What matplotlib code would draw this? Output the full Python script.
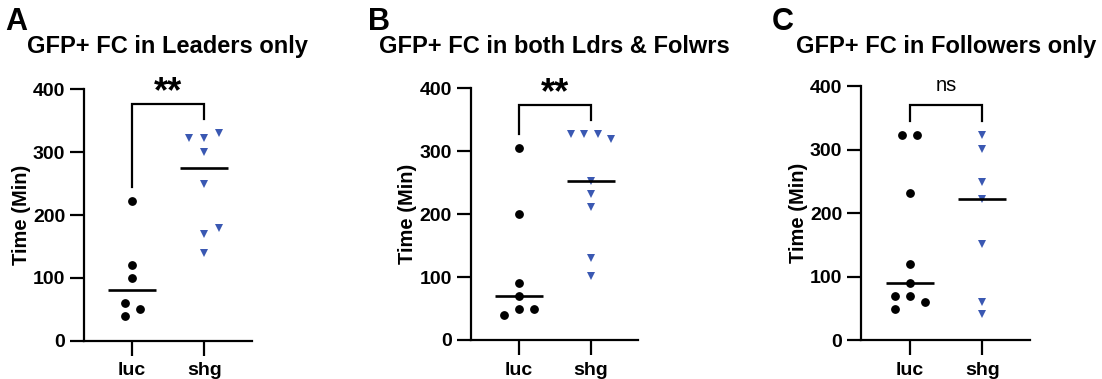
# GraphPad風のドットプロット 3パネル

import numpy as np
import matplotlib
matplotlib.use('Agg')
import matplotlib.pyplot as plt

plt.rcParams['font.family'] = ['Liberation Sans', 'DejaVu Sans']

groups = ['luc', 'shg']
titles = ['GFP+ FC in Leaders only',
          'GFP+ FC in both Ldrs & Folwrs',
          'GFP+ FC in Followers only']
panel_letters = ['A', 'B', 'C']
sig_labels = ['**', '**', 'ns']
yticks = [0, 100, 200, 300, 400]

# 値 (分)
luc_A = [222, 120, 100, 60, 50, 40]
shg_A = [323, 323, 330, 300, 250, 180, 170, 140]
luc_B = [305, 200, 90, 70, 50, 50, 40]
shg_B = [327, 327, 327, 319, 253, 232, 212, 131, 101]
luc_C = [323, 323, 232, 120, 90, 70, 70, 60, 50]
shg_C = [323, 301, 249, 222, 152, 61, 41]

# 重なり回避の横ずらし (半ステップ単位)
spread_luc_A = [0, 0, 0, -1, 1, -1]
spread_shg_A = [-2, 0, 2, 0, 0, 2, 0, 0]
spread_luc_B = [0, 0, 0, 0, 0, 2, -2]
spread_shg_B = [-2.7, -0.9, 0.9, 2.7, 0, 0, 0, 0, 0]
spread_luc_C = [-1, 1, 0, 0, 0, -2, 0, 2, -2]
spread_shg_C = [0, 0, 0, 0, 0, 0, 0]

data = [(luc_A, shg_A, spread_luc_A, spread_shg_A),
        (luc_B, shg_B, spread_luc_B, spread_shg_B),
        (luc_C, shg_C, spread_luc_C, spread_shg_C)]

blue = '#3a58b2'
half_step = 0.104
lw = 1.6

W, H = 1102, 379
fig = plt.figure(figsize=(W / 100, H / 100), dpi=100)

# 各パネルの位置 (ピクセル): left, right, top(400), bottom(0)
boxes = [(84, 251.7, 89.3, 340.7),
         (470.7, 638.3, 88.3, 340.0),
         (861, 1030.3, 86.0, 340.3)]
letter_x = [5, 368, 772]

for i, (luc, shg, sp_l, sp_s) in enumerate(data):
    l, r, t, b = boxes[i]
    ax = fig.add_axes([l / W, 1 - b / H, (r - l) / W, (b - t) / H])
    ax.set_xlim(-0.67, 1.66)
    ax.set_ylim(0, 400)
    ax.patch.set_alpha(0)

    ax.plot(np.array(sp_l) * half_step, luc, 'o', color='black',
            markersize=5.3, clip_on=False, zorder=3)
    ax.plot(1 + np.array(sp_s) * half_step, shg, 'v', color=blue,
            markersize=5.6, markeredgewidth=0, clip_on=False, zorder=3)

    # 中央値
    for xpos, vals in zip([0, 1], [luc, shg]):
        med = np.median(vals)
        ax.plot([xpos - 0.33, xpos + 0.33], [med, med], color='black',
                lw=1.9, solid_capstyle='butt', zorder=4)

    # 有意差ブラケット
    leg_l = max(luc) + 22
    leg_r = max(shg) + 22
    top = max(max(luc), max(shg)) + 47
    ax.plot([0, 0, 1, 1], [leg_l, top, top, leg_r], color='black',
            lw=lw, clip_on=False, solid_joinstyle='miter')
    if sig_labels[i] == 'ns':
        ax.text(0.5, top + 22, 'ns', ha='center', va='baseline',
                fontsize=14.5, clip_on=False)
    else:
        ax.text(0.5, top + 2, '**', ha='center', va='baseline',
                fontsize=26, fontweight='bold', clip_on=False)

    for s in ['top', 'right']:
        ax.spines[s].set_visible(False)
    for s in ['left', 'bottom']:
        ax.spines[s].set_linewidth(lw)
    ax.set_yticks(yticks)
    ax.set_xticks([0, 1])
    ax.set_xticklabels(groups)
    ax.tick_params(axis='y', length=10, width=lw, pad=3.5, labelsize=14)
    ax.tick_params(axis='x', length=11, width=lw, pad=4.5, labelsize=14)
    for lab in ax.get_xticklabels() + ax.get_yticklabels():
        lab.set_fontweight('bold')
    ax.set_ylabel('Time (Min)', fontsize=14.5, fontweight='bold', labelpad=1.5)

    cx = (l + r) / 2 / W
    fig.text(cx, 1 - 53.3 / H, titles[i], ha='center', va='baseline',
             fontsize=17, fontweight='bold')
    fig.text(letter_x[i] / W, 1 - 29.5 / H, panel_letters[i], ha='left',
             va='baseline', fontsize=22, fontweight='bold')

plt.savefig('out.png', dpi=100)
